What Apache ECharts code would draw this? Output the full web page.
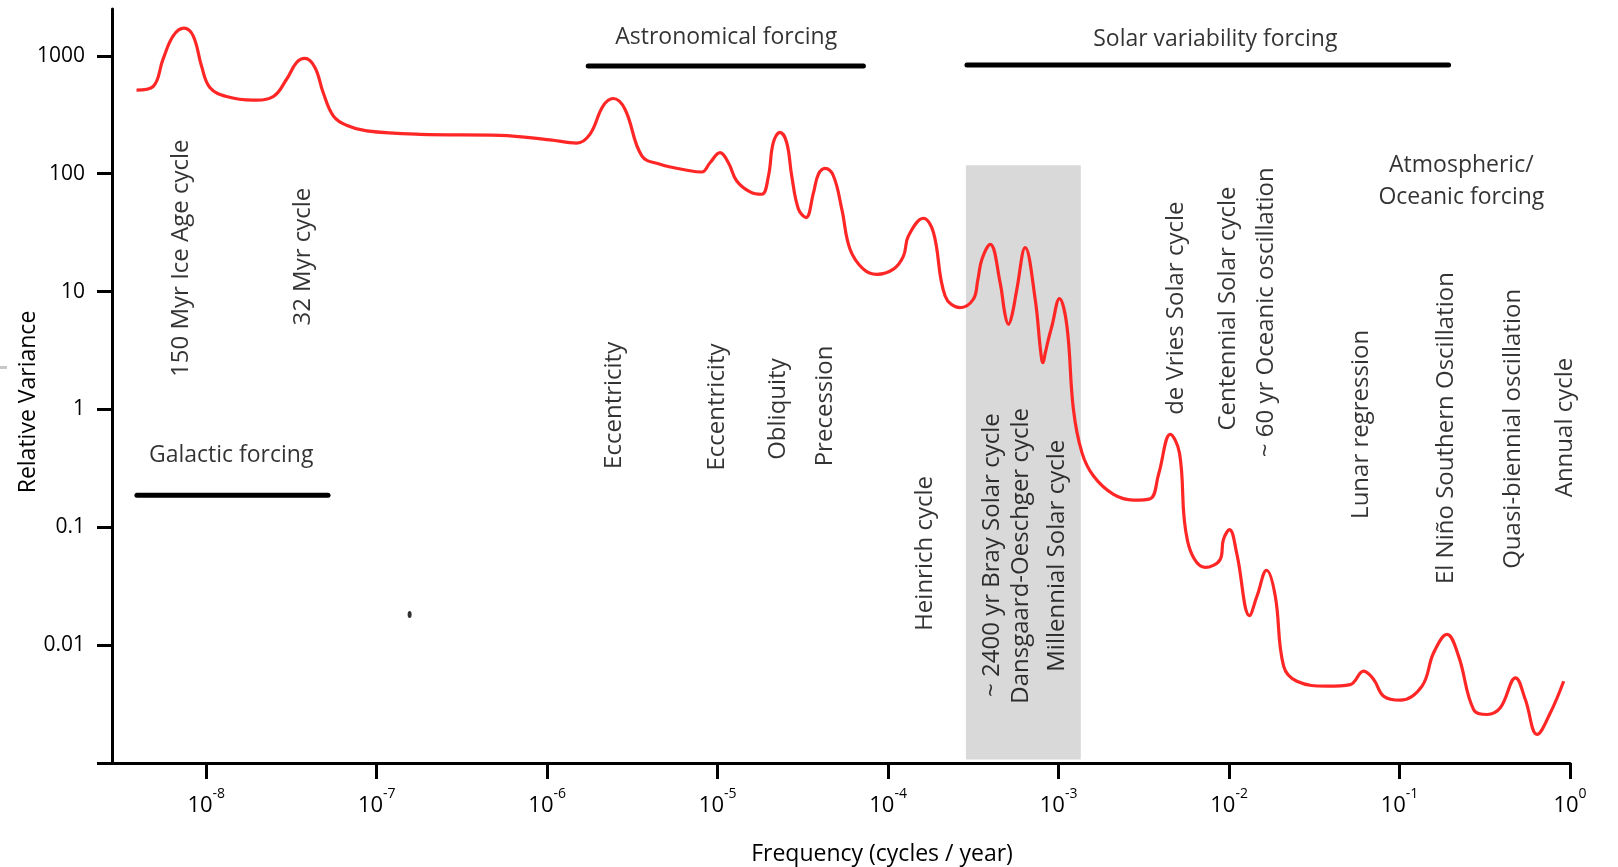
<!DOCTYPE html>
<html>
<head>
<meta charset="utf-8">
<script src="https://cdn.jsdelivr.net/npm/echarts@6/dist/echarts.min.js"></script>
<style>
html,body{margin:0;padding:0;background:#fff;}
#chart{width:1618px;height:867px;}
</style>
</head>
<body>
<div id="chart"></div>
<script>
// ---------- data ----------
const freq = [
  3.90e-9, 4.88e-9, 5.58e-9, 6.40e-9, 7.40e-9, 8.38e-9, 9.38e-9, 1.05e-8, 1.315e-8, 1.884e-8,
  2.47e-8, 2.96e-8, 3.39e-8, 3.79e-8, 4.34e-8, 4.85e-8, 5.56e-8, 6.65e-8, 8.73e-8, 1.795e-7,
  5.28e-7, 1.038e-6, 1.49e-6, 1.78e-6, 2.13e-6, 2.44e-6, 2.86e-6, 3.59e-6, 4.59e-6, 6.88e-6,
  8.07e-6, 9.02e-6, 1.033e-5, 1.156e-5, 1.294e-5, 1.55e-5, 1.815e-5, 1.986e-5, 2.12e-5, 2.32e-5,
  2.54e-5, 2.72e-5, 2.98e-5, 3.30e-5, 3.65e-5, 3.90e-5, 4.27e-5, 4.78e-5, 5.35e-5, 5.98e-5,
  7.16e-5, 8.59e-5, 1.074e-4, 1.23e-4, 1.315e-4, 1.61e-4, 1.845e-4, 2.16e-4, 2.64e-4, 3.16e-4,
  3.36e-4, 3.55e-4, 3.97e-4, 4.54e-4, 4.85e-4, 5.08e-4, 5.33e-4, 5.69e-4, 6.37e-4, 7.29e-4,
  7.85e-4, 8.09e-4, 8.35e-4, 8.70e-4, 9.14e-4, 1.012e-3, 1.119e-3, 1.222e-3, 1.371e-3, 1.603e-3,
  2.10e-3, 2.75e-3, 3.45e-3, 3.86e-3, 4.52e-3, 5.12e-3, 5.71e-3, 7.24e-3, 8.87e-3, 9.27e-3,
  1.007e-2, 1.112e-2, 1.318e-2, 1.459e-2, 1.66e-2, 1.866e-2, 2.09e-2, 2.50e-2, 3.76e-2, 5.14e-2,
  6.15e-2, 7.05e-2, 8.07e-2, 0.1012, 0.1355, 0.1585, 0.190, 0.222, 0.272, 0.326,
  0.390, 0.479, 0.547, 0.641, 0.767, 0.918
];
const variance = [
  512, 550, 938, 1479, 1718, 1479, 822, 540, 452, 421,
  452, 634, 879, 951, 798, 489, 310, 258, 231, 216,
  212, 194, 182, 216, 377, 435, 353, 142, 120.5, 106,
  103.5, 124, 151, 124, 86.9, 70.2, 67, 95.7, 184, 224,
  184, 95.7, 50, 42.5, 69.2, 99, 111, 95.7, 50, 22.9,
  15.5, 14.0, 15.5, 20.0, 29.6, 41.9, 31.7, 9.18, 7.31, 8.61,
  12.6, 18.8, 25.2, 11.9, 6.4, 5.27, 6.3, 10.45, 23.6, 8.61,
  3.1, 2.49, 3.0, 3.9, 5.11, 8.73, 5.11, 1.0, 0.430, 0.272,
  0.190, 0.170, 0.175, 0.282, 0.615, 0.427, 0.0764, 0.0457, 0.0533, 0.0789,
  0.0955, 0.0589, 0.0178, 0.0261, 0.0432, 0.0261, 0.00664, 0.00494, 0.00449, 0.00463,
  0.00601, 0.00512, 0.00369, 0.00341, 0.00449, 0.00861, 0.01233, 0.00807, 0.00284, 0.00258,
  0.00294, 0.00528, 0.00346, 0.00175, 0.00267, 0.00494
];

// shaded band (frequency range, variance range)
const bandFreq = [2.86e-4, 1.35e-3];
const bandVar = [0.00107, 118];

// forcing range bars
const forcingFreqStart = [3.92e-9, 1.74e-6, 2.90e-4];
const forcingFreqEnd = [5.18e-8, 7.16e-5, 0.194];
const forcingLevel = [0.187, 822, 839];

// vertical cycle labels: frequency of label, variance where label text starts
const cycleNames = [
  '150 Myr Ice Age cycle', '32 Myr cycle', 'Eccentricity', 'Eccentricity', 'Obliquity',
  'Precession', 'Heinrich cycle', '~ 2400 yr Bray Solar cycle', 'Dansgaard-Oeschger cycle',
  'Millennial Solar cycle', 'de Vries Solar cycle', 'Centennial Solar cycle',
  '~ 60 yr Oceanic oscillation', 'Lunar regression', 'El Niño Southern Oscillation',
  'Quasi-biennial oscillation', 'Annual cycle'
];
const cycleFreq = [
  7.16e-9, 3.71e-8, 2.50e-6, 1.00e-5, 2.29e-5,
  4.30e-5, 1.65e-4, 4.13e-4, 6.08e-4,
  9.9e-4, 4.93e-3, 9.93e-3,
  1.67e-2, 6.03e-2, 0.190,
  0.468, 0.94
];
const cycleBase = [
  1.87, 5.1, 0.31, 0.30, 0.37,
  0.326, 0.0131, 0.0036, 0.00315,
  0.00589, 0.891, 0.656,
  0.39, 0.1167, 0.0327,
  0.044, 0.178
];

// horizontal group headings
const headNames = ['Galactic forcing', 'Astronomical forcing', 'Solar variability forcing', 'Atmospheric/\nOceanic forcing'];
const headFreq = [1.41e-8, 1.13e-5, 8.36e-3, 0.232];
const headVar = [0.401, 1413, 1358, 85.5];

// stray dot in the original figure
const dotFreq = [1.56e-7];
const dotVar = [0.0182];

// axis ranges and tick ranges
const X_MIN = 2.8e-9, X_MAX = 1;
const Y_MIN = 0.001, Y_MAX = 2500;
const X_TICK_MIN = 1e-8, X_TICK_MAX = 1;
const Y_TICK_MIN = 0.001, Y_TICK_MAX = 1000;

// ---------- layout ----------
const FONT = "'Open Sans', 'Noto Sans', sans-serif";
const INK = '#000';
const CW = 1618, CH = 867;
const G = {left: 112, right: 48, top: 9, bottom: 104};
const W = CW - G.left - G.right, H = CH - G.top - G.bottom;
const lg = Math.log10;
const yTickTop = G.top + H * (lg(Y_MAX) - lg(Y_TICK_MAX)) / (lg(Y_MAX) - lg(Y_MIN));
const xTickLeft = G.left + W * (lg(X_TICK_MIN) - lg(X_MIN)) / (lg(X_MAX) - lg(X_MIN));

const chart = echarts.init(document.getElementById('chart'), null, {renderer: 'canvas'});

const curveData = freq.map((f, i) => [f, variance[i]]);
const cycleData = cycleNames.map((n, i) => ({name: n, value: [cycleFreq[i], cycleBase[i]]}));
const headData = headNames.map((n, i) => ({name: n, value: [headFreq[i], headVar[i]]}));

const axisLineStyle = {color: '#000', width: 3};

const forcingSeries = forcingLevel.map((lv, i) => ({
  type: 'line', xAxisIndex: 0, yAxisIndex: 0, silent: true, z: 4,
  data: [[forcingFreqStart[i], lv], [forcingFreqEnd[i], lv]],
  symbol: 'none',
  lineStyle: {color: '#000', width: 5, cap: 'round'}
}));

const option = {
  animation: false,
  backgroundColor: '#fff',
  grid: [
    {left: G.left, right: G.right, top: G.top, bottom: G.bottom, outerBoundsMode: 'none', containLabel: false},
    {left: G.left, right: G.right, top: yTickTop, bottom: G.bottom, outerBoundsMode: 'none', containLabel: false},
    {left: xTickLeft, right: G.right, top: G.top, bottom: G.bottom, outerBoundsMode: 'none', containLabel: false}
  ],
  xAxis: [
    {
      gridIndex: 0, type: 'log', logBase: 10, min: X_MIN, max: X_MAX,
      axisLine: {show: true, onZero: false, lineStyle: axisLineStyle},
      axisTick: {show: false}, axisLabel: {show: false}, splitLine: {show: false},
      name: 'Frequency (cycles / year)', nameLocation: 'middle', nameGap: 80,
      nameTextStyle: {fontFamily: FONT, fontSize: 23, color: INK, padding: [0, 0, 0, 82]}
    },
    {gridIndex: 1, type: 'log', min: X_MIN, max: X_MAX, show: false},
    {
      gridIndex: 2, type: 'log', logBase: 10, min: X_TICK_MIN, max: X_TICK_MAX, splitNumber: 8,
      axisLine: {show: false},
      axisTick: {show: true, length: 16, lineStyle: axisLineStyle},
      splitLine: {show: false},
      axisLabel: {
        margin: 24,
        formatter: v => '{b|10}{s|' + Math.round(lg(v)) + '}',
        rich: {
          b: {fontFamily: FONT, fontSize: 22, color: INK, lineHeight: 30, verticalAlign: 'bottom'},
          s: {fontFamily: FONT, fontSize: 14, color: INK, lineHeight: 15, verticalAlign: 'top'}
        }
      }
    }
  ],
  yAxis: [
    {
      gridIndex: 0, type: 'log', logBase: 10, min: Y_MIN, max: Y_MAX,
      axisLine: {show: true, onZero: false, lineStyle: axisLineStyle},
      axisTick: {show: false}, axisLabel: {show: false}, splitLine: {show: false},
      name: 'Relative Variance', nameLocation: 'middle', nameGap: 72,
      nameTextStyle: {fontFamily: FONT, fontSize: 23, color: INK, padding: [0, 32, 0, 0]}
    },
    {
      gridIndex: 1, type: 'log', logBase: 10, min: Y_TICK_MIN, max: Y_TICK_MAX, splitNumber: 6,
      axisLine: {show: false},
      axisTick: {show: true, length: 15, lineStyle: axisLineStyle},
      splitLine: {show: false},
      axisLabel: {
        margin: 27, fontFamily: FONT, fontSize: 21, color: INK,
        formatter: v => v < 0.005 ? '' : (v >= 1 ? String(Math.round(v)) : String(parseFloat(v.toPrecision(1))))
      }
    },
    {gridIndex: 2, type: 'log', min: Y_MIN, max: Y_MAX, show: false}
  ],
  series: [
    {
      type: 'line', xAxisIndex: 0, yAxisIndex: 0, data: [], silent: true, z: 1,
      markArea: {
        silent: true,
        itemStyle: {color: '#d9d9d9'},
        data: [[{coord: [bandFreq[0], bandVar[0]]}, {coord: [bandFreq[1], bandVar[1]]}]]
      }
    },
    {
      type: 'line', xAxisIndex: 0, yAxisIndex: 0, data: curveData, z: 3,
      smooth: 0.4, symbol: 'none', silent: true,
      lineStyle: {color: '#ff2626', width: 3.2}
    },
    ...forcingSeries,
    {
      type: 'scatter', xAxisIndex: 0, yAxisIndex: 0, data: cycleData, z: 5, silent: true,
      symbolSize: 1, itemStyle: {color: 'rgba(0,0,0,0)'},
      label: {
        show: true, position: [0, 0], rotate: 90, align: 'left', verticalAlign: 'middle',
        formatter: p => p.name, fontFamily: FONT, fontSize: 24, color: INK
      }
    },
    {
      type: 'scatter', xAxisIndex: 0, yAxisIndex: 0, data: headData, z: 5, silent: true,
      symbolSize: 1, itemStyle: {color: 'rgba(0,0,0,0)'},
      label: {
        show: true, position: [0, 0], align: 'center', verticalAlign: 'middle', lineHeight: 32,
        formatter: p => p.name, fontFamily: FONT, fontSize: 23, color: INK
      }
    },
    {
      type: 'scatter', xAxisIndex: 0, yAxisIndex: 0, silent: true, z: 5,
      data: dotFreq.map((f, i) => [f, dotVar[i]]),
      symbol: 'circle', symbolSize: [4, 7], itemStyle: {color: '#000'}
    }
  ],
  graphic: [
    {type: 'rect', left: 0, top: 366, shape: {width: 7, height: 3}, style: {fill: '#c8c8c8'}, silent: true}
  ]
};

chart.setOption(option);
</script>
</body>
</html>
